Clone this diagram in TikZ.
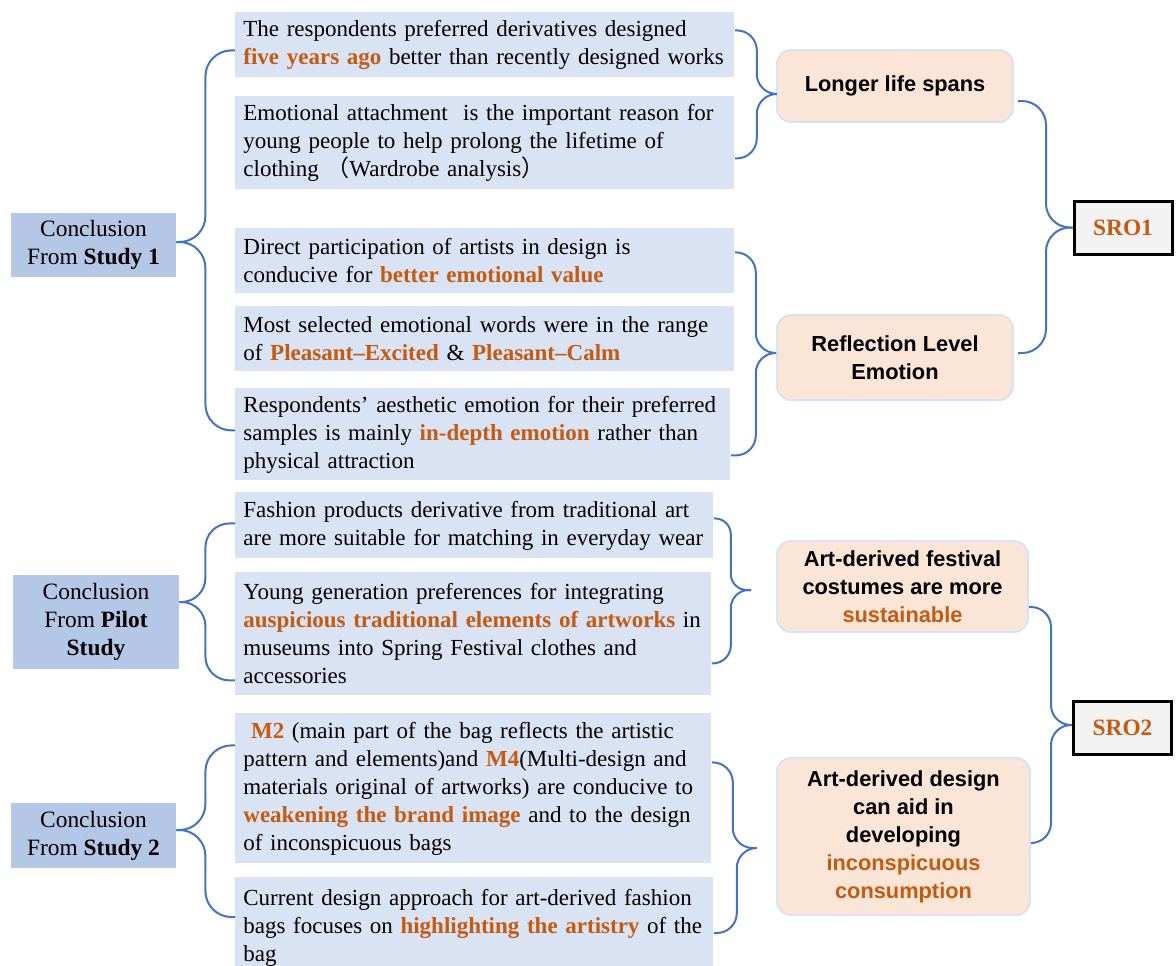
\documentclass[tikz,border=0pt]{standalone}
\usepackage{fontspec}
\setmainfont{Liberation Serif}
\newfontfamily\ressans{Liberation Sans}
\newfontfamily\cjk{Noto Sans CJK SC}
\usepackage{xcolor}

\definecolor{conclblue}{HTML}{B4C7E7}
\definecolor{findblue}{HTML}{DAE3F3}
\definecolor{peach}{HTML}{FBE5D6}
\definecolor{braceblue}{HTML}{4472C4}
\definecolor{hlorange}{HTML}{C55A11}
\definecolor{srogray}{HTML}{F2F2F2}
\newcommand{\orng}[1]{\textbf{\color{hlorange}#1}}

\begin{document}
\begin{tikzpicture}[x=0.5pt, y=-0.5pt,
  concl/.style={fill=conclblue, align=center, minimum width=82.5pt, font=\fontsize{11.7}{14}\selectfont},
  finding/.style={fill=findblue, anchor=north west, align=left, inner xsep=4pt, text width=#1, font=\fontsize{11.5}{14}\selectfont},
  result/.style={draw=findblue, line width=1pt, fill=peach, rounded corners=7pt, align=center, font=\ressans\bfseries\fontsize{10.9}{14}\selectfont},
  sro/.style={draw=black, line width=1.5pt, fill=srogray, minimum width=49pt, minimum height=26.5pt, font=\fontsize{11.7}{14}\selectfont\bfseries\color{hlorange}},
  brace/.style 2 args={draw=braceblue, line width=1pt, to path={[rounded corners=#2] -- ++(#1,0) |- (\tikztotarget)}}]

  \useasboundingbox (0,0) rectangle (1176,965);

  % conclusions
  \node[concl, minimum height=32pt] (s1) at (93.5,245) {Conclusion\\From \textbf{Study 1}};
  \node[concl, minimum width=83pt, minimum height=47pt] (pilot) at (96,622) {Conclusion\\From \textbf{Pilot}\\\textbf{Study}};
  \node[concl, minimum height=32.5pt] (s2) at (93.5,835.5) {Conclusion\\From \textbf{Study 2}};

  % findings
  \node[finding=241.5pt, minimum height=32.5pt] (b1) at (235,12)
    {The respondents preferred derivatives designed\\\orng{five years ago} better than recently designed works};
  \node[finding=241.5pt, minimum height=46.5pt] (b2) at (235,96)
    {Emotional attachment\ \ is the important reason for\\young people to help prolong the lifetime of\\clothing {\cjk （}Wardrobe analysis{\cjk ）}};
  \node[finding=241.5pt, minimum height=32.5pt] (b3) at (235,228)
    {Direct participation of artists in design is\\conducive for \orng{better emotional value}};
  \node[finding=241.5pt, minimum height=32.5pt] (b4) at (235,306)
    {Most selected emotional words were in the range\\of \orng{Pleasant–Excited} \& \orng{Pleasant–Calm}};
  \node[finding=239.5pt, minimum height=46pt] (b5) at (235,388)
    {Respondents' aesthetic emotion for their preferred\\samples is mainly \orng{in-depth emotion} rather than\\physical attraction};
  \node[finding=231pt, minimum height=33pt] (b6) at (235,492)
    {Fashion products derivative from traditional art\\are more suitable for matching in everyday wear};
  \node[finding=230pt, minimum height=61.5pt] (b7) at (235,572)
    {Young generation preferences for integrating\\\orng{auspicious traditional elements of artworks} in\\museums into Spring Festival clothes and\\accessories};
  \node[finding=230pt, minimum height=75pt] (b8) at (235,713)
    {\ \orng{M2} (main part of the bag reflects the artistic\\pattern and elements)and \orng{M4}(Multi-design and\\materials original of artworks) are conducive to\\\orng{weakening the brand image} and to the design\\of inconspicuous bags};
  \node[finding=231pt, minimum height=50pt] (b9) at (235,877)
    {Current design approach for art-derived fashion\\bags focuses on \orng{highlighting the artistry} of the\\bag};

  % results
  \node[result, minimum width=118pt, minimum height=36pt] (life) at (895,86) {Longer life spans};
  \node[result, minimum width=118pt, minimum height=42.5pt] (refl) at (895,357.5) {Reflection Level\\Emotion};
  \node[result, minimum width=125.5pt, minimum height=45.5pt] (fest) at (902.5,586.5)
    {Art-derived festival\\costumes are more\\\orng{sustainable}};
  \node[result, minimum width=126.5pt, minimum height=78.5pt] (design) at (903.5,836.5)
    {Art-derived design\\can aid in\\developing\\\orng{inconspicuous}\\\orng{consumption}};

  \node[sro] (sro1) at (1123,227.5) {SRO1};
  \node[sro] (sro2) at (1122.5,728) {SRO2};

  % braces
  \path[brace={29}{13pt}]
    ([yshift=1.5pt]s1.east) edge ([yshift=-2.75pt]b1.west) edge ([yshift=2pt]b5.west);
  \path[brace={26}{12pt}]
    ([yshift=10pt]pilot.east) edge ([yshift=1pt]b6.west) edge ([yshift=-23.25pt]b7.west);
  \path[brace={29}{13pt}]
    ([yshift=2.75pt]s2.east) edge ([yshift=21.5pt]b8.west) edge ([yshift=-20pt]b9.north west);

  \path[brace={22}{10pt}]
    ([yshift=7.25pt]b1.east) edge ([yshift=-4pt]life.west)
    ([yshift=-7.75pt]b2.east) edge ([yshift=-4pt]life.west);
  \path
    ([yshift=4.25pt]b3.east) edge[brace={21}{10pt}] ([yshift=2.25pt]refl.west)
    ([yshift=-10.5pt]b5.east) edge[brace={25}{10pt}] ([yshift=2.25pt]refl.west);
  \path
    ([yshift=3.5pt]b6.east) edge[brace={17}{8pt}] ([xshift=-12.5pt,yshift=-1.75pt]fest.west)
    ([yshift=-14.75pt]b7.east) edge[brace={19}{9pt}] ([xshift=-12.5pt,yshift=-1.75pt]fest.west);
  \path
    ([yshift=13pt]b8.east) edge[brace={21}{10pt}] ([xshift=-12pt,yshift=-5.75pt]design.west)
    ([yshift=-28pt]b9.north east) edge[brace={23}{10pt}] ([xshift=-12pt,yshift=-5.75pt]design.west);

  \path[brace={28}{12pt}]
    ([xshift=2pt,yshift=-7.5pt]life.east) edge (sro1.west)
    ([xshift=2pt,yshift=2.25pt]refl.east) edge (sro1.west);
  \path
    ([yshift=-10.25pt]fest.east) edge[brace={22}{10pt}] ([yshift=1.5pt]sro2.west)
    ([yshift=-3.25pt]design.east) edge[brace={20}{10pt}] ([yshift=1.5pt]sro2.west);

\end{tikzpicture}
\end{document}
